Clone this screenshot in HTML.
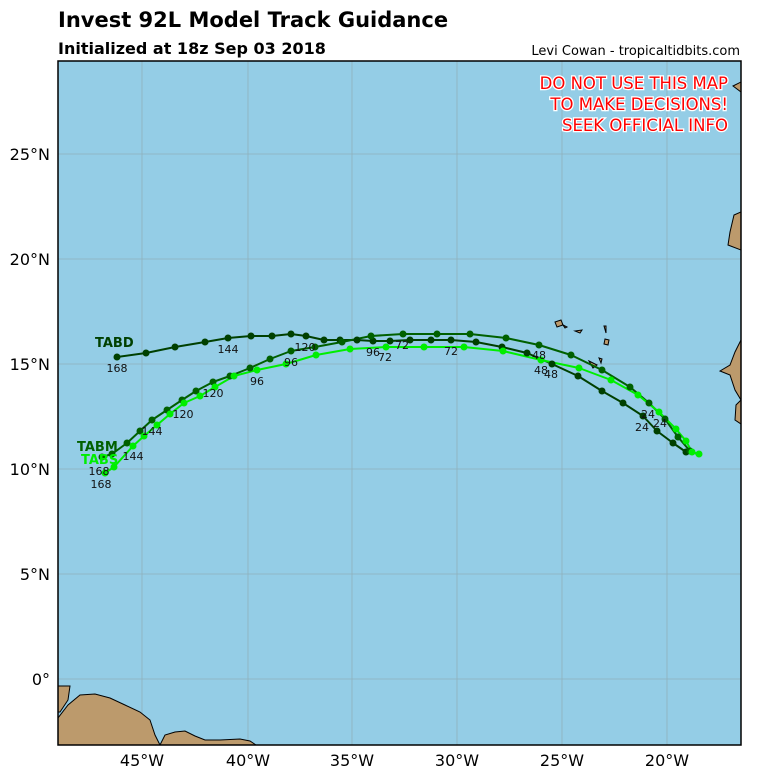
<!DOCTYPE html>
<html><head><meta charset="utf-8"><style>
html,body{margin:0;padding:0;background:#fff;}
svg{display:block;font-family:"DejaVu Sans","Liberation Sans",sans-serif;}
</style></head><body>
<svg width="768" height="768" viewBox="0 0 768 768" xmlns="http://www.w3.org/2000/svg">
<rect width="768" height="768" fill="#fff"/>
<text x="58" y="27" font-size="21" font-weight="bold">Invest 92L Model Track Guidance</text>
<text x="58" y="54" font-size="16" font-weight="bold">Initialized at 18z Sep 03 2018</text>
<text x="740" y="55" font-size="13" text-anchor="end">Levi Cowan - tropicaltidbits.com</text>
<defs><clipPath id="c"><rect x="58" y="61" width="683" height="684"/></clipPath></defs>
<g clip-path="url(#c)">
<rect x="58" y="61" width="683" height="684" fill="#94cde6"/>
<g stroke="#8fb0bb" stroke-width="0.8">
<line x1="142" y1="61" x2="142" y2="745"/><line x1="248" y1="61" x2="248" y2="745"/><line x1="352" y1="61" x2="352" y2="745"/><line x1="457" y1="61" x2="457" y2="745"/><line x1="562" y1="61" x2="562" y2="745"/><line x1="667" y1="61" x2="667" y2="745"/>
<line x1="58" y1="154" x2="741" y2="154"/><line x1="58" y1="259" x2="741" y2="259"/><line x1="58" y1="364" x2="741" y2="364"/><line x1="58" y1="469" x2="741" y2="469"/><line x1="58" y1="574" x2="741" y2="574"/><line x1="58" y1="679" x2="741" y2="679"/>
</g>
<g fill="#bc9a6c" stroke="#000" stroke-width="1">
<path d="M58,686 L70,686 L68,700 L60,712 L58,712 Z"/>
<path d="M58,718 L68,705 L80,695 L95,694 L110,698 L125,705 L140,712 L150,720 L155,735 L160,745 L58,745 Z"/>
<path d="M160,745 L165,735 L175,732 L185,731 L195,736 L205,740 L220,740 L240,739 L250,741 L256,745 Z"/>
<path d="M741,212 L734,215 L730,232 L728,245 L741,250 Z"/>
<path d="M741,340 L735,352 L730,365 L720,371 L730,375 L735,390 L741,400 Z"/>
<path d="M741,400 L736,405 L735,420 L741,424 Z"/>
<path d="M733,86 L741,82 L741,92 Z"/>
<path d="M555,322 L561,320 L563,325 L557,327 Z"/>
<path d="M575,331 L582,330 L580,333 Z"/>
<path d="M605,339 L609,340 L608,345 L604,344 Z"/>
<path d="M589,361 L597,365 L593,368 Z"/>
<path d="M599,358 L602,359 L601,363 Z"/>
<path d="M604,326 L606,326 L606,333 Z"/>
<path d="M563,325 L567,327 L565,328 Z"/>
</g>
<g fill="none" stroke-width="2" stroke-linejoin="round">
<polyline stroke="#004000" points="117,357 146,353 175,347 205,342 228,338 251,336 272,336 291,334 306,336 324,340 340,340 357,340 373,341 390,341 410,340 431,340 451,340 476,342 502,347 527,353 552,364 578,376 602,391 623,403 643,416 657,431 673,443 686,452"/>
<polyline stroke="#006000" points="102,457 112,454 127,443 140,431 152,420 167,410 182,400 196,391 213,382 230,376 250,368 270,359 291,351 315,347 342,342 371,336 403,334 437,334 470,334 506,338 539,345 571,355 602,370 630,387 649,403 665,419 678,437 690,451 697,454"/>
<polyline stroke="#00ee00" points="105,473 114,467 133,446 144,436 157,425 170,414 184,403 200,396 215,387 234,376 257,370 286,364 316,355 350,349 386,347 424,347 464,347 503,351 541,360 579,368 611,380 638,395 659,412 676,429 686,441 692,452 699,454"/>
</g>
<g fill="#004000">
<circle cx="117" cy="357" r="3.5"/><circle cx="146" cy="353" r="3.5"/><circle cx="175" cy="347" r="3.5"/><circle cx="205" cy="342" r="3.5"/><circle cx="228" cy="338" r="3.5"/><circle cx="251" cy="336" r="3.5"/><circle cx="272" cy="336" r="3.5"/><circle cx="291" cy="334" r="3.5"/><circle cx="306" cy="336" r="3.5"/><circle cx="324" cy="340" r="3.5"/><circle cx="340" cy="340" r="3.5"/><circle cx="357" cy="340" r="3.5"/><circle cx="373" cy="341" r="3.5"/><circle cx="390" cy="341" r="3.5"/><circle cx="410" cy="340" r="3.5"/><circle cx="431" cy="340" r="3.5"/><circle cx="451" cy="340" r="3.5"/><circle cx="476" cy="342" r="3.5"/><circle cx="502" cy="347" r="3.5"/><circle cx="527" cy="353" r="3.5"/><circle cx="552" cy="364" r="3.5"/><circle cx="578" cy="376" r="3.5"/><circle cx="602" cy="391" r="3.5"/><circle cx="623" cy="403" r="3.5"/><circle cx="643" cy="416" r="3.5"/><circle cx="657" cy="431" r="3.5"/><circle cx="673" cy="443" r="3.5"/><circle cx="686" cy="452" r="3.5"/>
</g>
<g fill="#006000">
<circle cx="102" cy="457" r="3.5"/><circle cx="112" cy="454" r="3.5"/><circle cx="127" cy="443" r="3.5"/><circle cx="140" cy="431" r="3.5"/><circle cx="152" cy="420" r="3.5"/><circle cx="167" cy="410" r="3.5"/><circle cx="182" cy="400" r="3.5"/><circle cx="196" cy="391" r="3.5"/><circle cx="213" cy="382" r="3.5"/><circle cx="230" cy="376" r="3.5"/><circle cx="250" cy="368" r="3.5"/><circle cx="270" cy="359" r="3.5"/><circle cx="291" cy="351" r="3.5"/><circle cx="315" cy="347" r="3.5"/><circle cx="342" cy="342" r="3.5"/><circle cx="371" cy="336" r="3.5"/><circle cx="403" cy="334" r="3.5"/><circle cx="437" cy="334" r="3.5"/><circle cx="470" cy="334" r="3.5"/><circle cx="506" cy="338" r="3.5"/><circle cx="539" cy="345" r="3.5"/><circle cx="571" cy="355" r="3.5"/><circle cx="602" cy="370" r="3.5"/><circle cx="630" cy="387" r="3.5"/><circle cx="649" cy="403" r="3.5"/><circle cx="665" cy="419" r="3.5"/><circle cx="678" cy="437" r="3.5"/><circle cx="690" cy="451" r="3.5"/>
</g>
<g fill="#00ee00">
<circle cx="105" cy="473" r="3.5"/><circle cx="114" cy="467" r="3.5"/><circle cx="133" cy="446" r="3.5"/><circle cx="144" cy="436" r="3.5"/><circle cx="157" cy="425" r="3.5"/><circle cx="170" cy="414" r="3.5"/><circle cx="184" cy="403" r="3.5"/><circle cx="200" cy="396" r="3.5"/><circle cx="215" cy="387" r="3.5"/><circle cx="234" cy="376" r="3.5"/><circle cx="257" cy="370" r="3.5"/><circle cx="286" cy="364" r="3.5"/><circle cx="316" cy="355" r="3.5"/><circle cx="350" cy="349" r="3.5"/><circle cx="386" cy="347" r="3.5"/><circle cx="424" cy="347" r="3.5"/><circle cx="464" cy="347" r="3.5"/><circle cx="503" cy="351" r="3.5"/><circle cx="541" cy="360" r="3.5"/><circle cx="579" cy="368" r="3.5"/><circle cx="611" cy="380" r="3.5"/><circle cx="638" cy="395" r="3.5"/><circle cx="659" cy="412" r="3.5"/><circle cx="676" cy="429" r="3.5"/><circle cx="686" cy="441" r="3.5"/><circle cx="692" cy="452" r="3.5"/><circle cx="699" cy="454" r="3.5"/>
</g>
<g font-size="11" fill="#111" text-anchor="middle">
<text x="117" y="372">168</text><text x="228" y="353">144</text><text x="305" y="351">120</text><text x="373" y="356">96</text><text x="402" y="349">72</text><text x="451" y="355">72</text><text x="539" y="359">48</text><text x="541" y="374">48</text><text x="551" y="378">48</text><text x="648" y="418">24</text><text x="642" y="431">24</text><text x="660" y="427">24</text>
<text x="213" y="397">120</text><text x="291" y="366">96</text><text x="385" y="361">72</text><text x="133" y="460">144</text><text x="99" y="475">168</text>
<text x="183" y="418">120</text><text x="257" y="385">96</text><text x="152" y="435">144</text><text x="101" y="488">168</text>
</g>
<text x="95" y="347" font-size="13" font-weight="bold" fill="#004000">TABD</text>
<text x="77" y="451" font-size="13" font-weight="bold" fill="#006000">TABM</text>
<text x="81" y="464" font-size="13" font-weight="bold" fill="#00ee00">TABS</text>
<g font-size="16.5" fill="#ff0000" stroke="#fff" stroke-width="2.5" paint-order="stroke" text-anchor="end">
<text x="728" y="89">DO NOT USE THIS MAP</text><text x="728" y="110">TO MAKE DECISIONS!</text><text x="728" y="131">SEEK OFFICIAL INFO</text>
</g>
</g>
<rect x="58" y="61" width="683" height="684" fill="none" stroke="#000" stroke-width="1.5"/>
<g font-size="16" fill="#000" text-anchor="end">
<text x="50" y="160">25°N</text><text x="50" y="265">20°N</text><text x="50" y="370">15°N</text><text x="50" y="475">10°N</text><text x="50" y="580">5°N</text><text x="50" y="685">0°</text>
</g>
<g font-size="16" fill="#000" text-anchor="middle">
<text x="142" y="766">45°W</text><text x="248" y="766">40°W</text><text x="352" y="766">35°W</text><text x="457" y="766">30°W</text><text x="562" y="766">25°W</text><text x="667" y="766">20°W</text>
</g>
</svg>
</body></html>
